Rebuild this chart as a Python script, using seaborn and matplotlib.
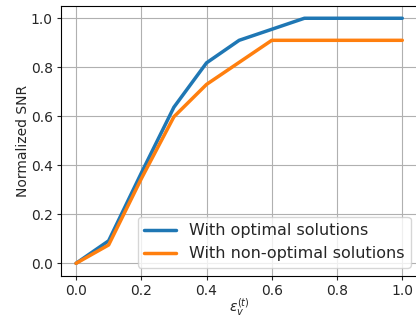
import matplotlib
matplotlib.use("Agg")
import matplotlib.pyplot as plt
import seaborn as sns
import pandas as pd

eps = [0.0, 0.1, 0.2, 0.3, 0.4, 0.5, 0.6, 0.7, 0.8, 0.9, 1.0]
optimal = [0.0, 0.092, 0.368, 0.637, 0.818, 0.91, 0.955, 1.0, 1.0, 1.0, 1.0]
non_optimal = [0.0, 0.075, 0.345, 0.598, 0.73, 0.82, 0.91, 0.91, 0.91, 0.91, 0.91]
labels = ["With optimal solutions", "With non-optimal solutions"]

df = pd.concat([
    pd.DataFrame({"eps": eps, "snr": optimal, "series": labels[0]}),
    pd.DataFrame({"eps": eps, "snr": non_optimal, "series": labels[1]}),
])

sns.set_style("ticks")
plt.rcParams['font.family'] = ['DejaVu Sans']
fig = plt.figure(figsize=(4.16, 3.18), dpi=100)
left_px, right_px = 61.0, 418.6
ax = fig.add_axes([left_px/416, 1-275.6/318, (right_px-left_px)/416, (275.6-6)/318])
sns.lineplot(data=df, x="eps", y="snr", hue="series", palette=["#1f77b4", "#ff7f0e"],
             linewidth=2.5, ax=ax)
ax.set_xlim(-0.046, 1.05)
ax.set_ylim(-0.05, 1.05)
ax.set_xticks([0.0, 0.2, 0.4, 0.6, 0.8, 1.0])
ax.set_yticks([0.0, 0.2, 0.4, 0.6, 0.8, 1.0])
ax.grid(True, color="#b0b0b0", linewidth=0.8)
ax.set_xlabel(r"$\varepsilon_v^{(t)}$", fontsize=10)
ax.xaxis.set_label_coords(0.5, -0.077)
ax.set_ylabel("Normalized SNR", fontsize=10)
ax.yaxis.set_label_coords(-0.088, 0.5)
ax.tick_params(labelsize=10, length=3, width=0.8, pad=3)
for s in ax.spines.values():
    s.set_color("black")
    s.set_linewidth(0.8)
ax.legend(title=None, loc="lower right", fontsize=11.5, framealpha=0.8)
fig.savefig("out.png", dpi=100)
